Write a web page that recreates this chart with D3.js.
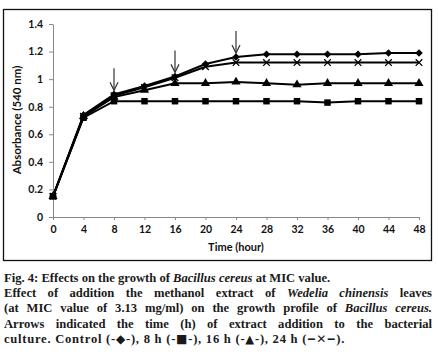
<!DOCTYPE html>
<html><head><meta charset="utf-8">
<script src="https://cdn.jsdelivr.net/npm/d3@7/dist/d3.min.js"></script>
<style>
html,body{margin:0;padding:0;background:#fff;}
svg{display:block;}
</style></head>
<body>
<svg id="chart" width="438" height="358"></svg>
<script>
const times = [0,4,8,12,16,20,24,28,32,36,40,44,48];
const control = [0.15,0.74,0.89,0.95,1.02,1.11,1.16,1.18,1.18,1.18,1.18,1.19,1.19];
const h8      = [0.15,0.72,0.84,0.84,0.84,0.84,0.84,0.84,0.84,0.83,0.84,0.84,0.84];
const h16     = [0.15,0.73,0.87,0.92,0.97,0.97,0.98,0.97,0.96,0.97,0.97,0.97,0.97];
const h24     = [0.15,0.73,0.88,0.94,1.01,1.09,1.12,1.12,1.12,1.12,1.12,1.12,1.12];
const xTicks = [0,4,8,12,16,20,24,28,32,36,40,44,48];
const yTicks = [0,0.2,0.4,0.6,0.8,1,1.2,1.4];
const arrowTimes = [8,16,24];

const svg = d3.select("#chart");
const x = d3.scaleLinear().domain([0,48]).range([53,419]);
const y = d3.scaleLinear().domain([0,1.4]).range([217,24]);

// border
svg.append("rect").attr("x",3.5).attr("y",9.5).attr("width",428).attr("height",251)
  .attr("fill","none").attr("stroke","#111").attr("stroke-width",1.3);

const chartFont = "Lato, 'Open Sans', sans-serif";

// axes
const xAxis = svg.append("g").attr("transform",`translate(0,${y(0)})`)
  .call(d3.axisBottom(x).tickValues(xTicks).tickSize(3).tickSizeOuter(3).tickPadding(6).tickFormat(d3.format("d")));
const yAxis = svg.append("g").attr("transform",`translate(${x(0)},0)`)
  .call(d3.axisLeft(y).tickValues(yTicks).tickSize(4).tickSizeOuter(0).tickPadding(6).tickFormat(d=>String(+d.toFixed(1))));
[xAxis,yAxis].forEach(a=>{
  a.selectAll("path,line").attr("stroke","#888").attr("stroke-width",1);
  a.selectAll("text").attr("fill","#111").style("font-family",chartFont).style("font-weight","bold").style("font-size","10.5px");
});

// axis titles
svg.append("text").attr("x",(x(0)+x(48))/2).attr("y",251).attr("text-anchor","middle")
  .style("font-family",chartFont).style("font-weight","bold").style("font-size","11px").attr("fill","#111")
  .text("Time (hour)");
svg.append("text").attr("transform",`translate(21,120) rotate(-90)`).attr("text-anchor","middle")
  .style("font-family",chartFont).style("font-weight","bold").style("font-size","11.5px").attr("fill","#111")
  .text("Absorbance (540 nm)");

// lines
const line = d3.line().x((d,i)=>x(times[i])).y(d=>y(d));
[h8,h16,h24,control].forEach(s=>{
  svg.append("path").datum(s).attr("d",line).attr("fill","none").attr("stroke","#000").attr("stroke-width",2);
});

// markers
const sym = (type,size)=>d3.symbol().type(type).size(size)();
svg.append("g").selectAll("path").data(h8).join("path")
  .attr("transform",(d,i)=>`translate(${x(times[i])},${y(d)})`).attr("d",sym(d3.symbolSquare,42)).attr("fill","#000");
svg.append("g").selectAll("path").data(h16).join("path")
  .attr("transform",(d,i)=>`translate(${x(times[i])},${y(d)})`).attr("d",sym(d3.symbolTriangle,36)).attr("fill","#000");
svg.append("g").selectAll("path").data(h24).join("path")
  .attr("transform",(d,i)=>`translate(${x(times[i])},${y(d)})`).attr("d",sym(d3.symbolTimes,30)).attr("fill","none").attr("stroke","#000").attr("stroke-width",1.3);
svg.append("g").selectAll("path").data(control).join("path")
  .attr("transform",(d,i)=>`translate(${x(times[i])},${y(d)}) rotate(45)`).attr("d",sym(d3.symbolSquare,28)).attr("fill","#000");

// arrows
arrowTimes.forEach(t=>{
  const v = control[times.indexOf(t)];
  const tip = y(v)-4, top = tip-22, cx = x(t);
  svg.append("line").attr("x1",cx).attr("x2",cx).attr("y1",top).attr("y2",tip).attr("stroke","#333").attr("stroke-width",1.2);
  svg.append("path").attr("d",`M${cx-4},${tip-8}L${cx},${tip}L${cx+4},${tip-8}`).attr("fill","none").attr("stroke","#333").attr("stroke-width",1.2);
});

// caption  [text, italic, fontSize(optional)]
const capFont = "'Liberation Serif', 'DejaVu Serif', serif";
const capLines = [
  {parts:[["Fig. 4: Effects on the growth of ",0],["Bacillus cereus",1],[" at MIC value.",0]], justify:false},
  {parts:[["Effect of addition the methanol extract of ",0],["Wedelia chinensis",1],[" leaves",0]], justify:true},
  {parts:[["(at MIC value of 3.13 mg/ml) on the growth profile of ",0],["Bacillus cereus.",1]], justify:true},
  {parts:[["Arrows indicated the time (h) of extract addition to the bacterial",0]], justify:true},
  {parts:[["culture. Control (-",0],["\u25C6",0,12],["-), 8 h (-",0],["\u25A0",0,12],["-), 16 h (-",0],["\u25B2",0,11.5],["-), 24 h (",0],["\u2012",0,12],["\u2715",0,12],["\u2012",0,12],[").",0]], justify:false, target:345}
];
const capX = 4, capRight = 432, capY0 = 282, capDy = 15.2;
capLines.forEach((ln,i)=>{
  const t = svg.append("text").attr("x",capX).attr("y",capY0+i*capDy)
    .style("font-family",capFont).style("font-weight","bold").style("font-size","12.6px").attr("fill","#1a1a1a");
  ln.parts.forEach(p=>{
    const ts = t.append("tspan").text(p[0]).style("font-style",p[1]?"italic":"normal");
    if(p[2]) ts.style("font-size",p[2]+"px").style("font-family","'DejaVu Sans', sans-serif");
  });
  const full = ln.parts.map(p=>p[0]).join("");
  const w = t.node().getComputedTextLength();
  if(ln.justify){
    const spaces = (full.match(/ /g)||[]).length;
    t.attr("word-spacing",(capRight-capX-w)/spaces);
  } else if(ln.target){
    t.attr("letter-spacing",Math.max(0,(ln.target-capX-w)/full.length));
  }
});
</script>
</body></html>
